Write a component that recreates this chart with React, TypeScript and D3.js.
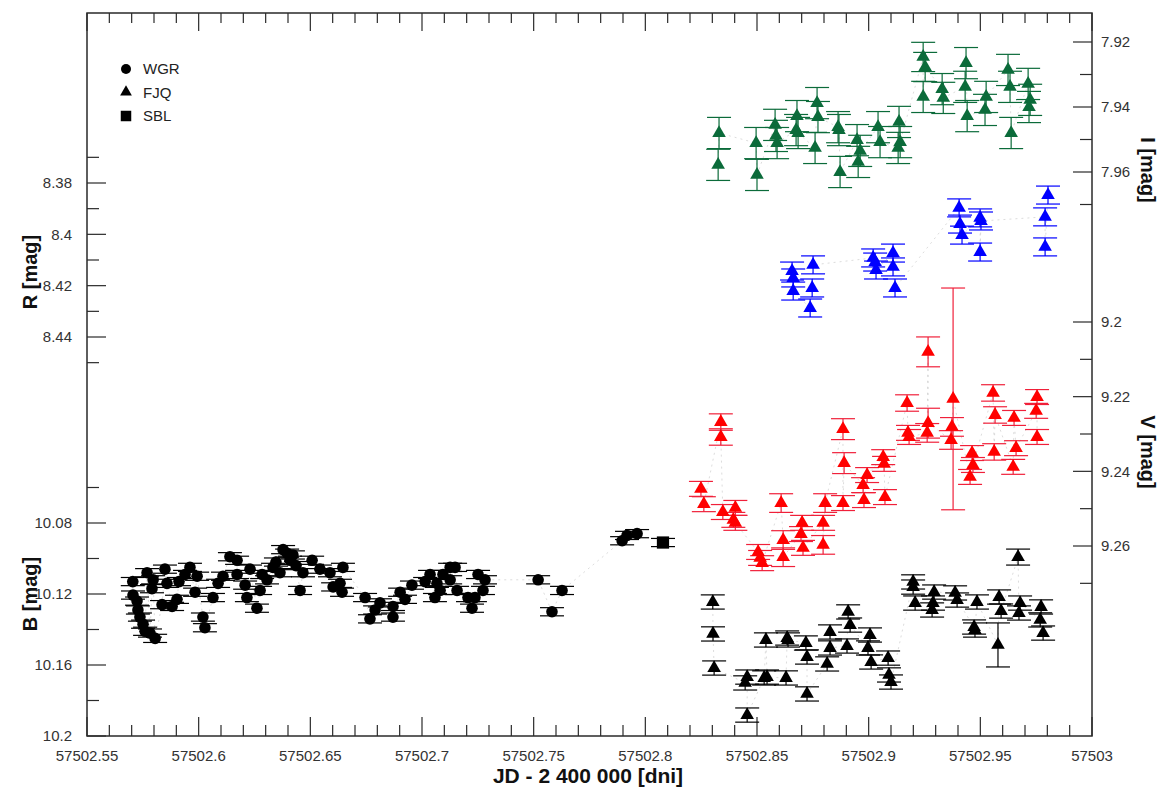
import React from 'react';
import * as d3 from 'd3';

// ---- data: [JD, mag, error] ----
const wgrB: [number, number][] = [
  [57502.5705, 10.113], [57502.5706, 10.1206], [57502.5724, 10.124], [57502.5728, 10.129],
  [57502.5737, 10.133], [57502.5751, 10.137], [57502.576, 10.141], [57502.5782, 10.142],
  [57502.5805, 10.145], [57502.5769, 10.108], [57502.5791, 10.117], [57502.5796, 10.112],
  [57502.5836, 10.126], [57502.5849, 10.106], [57502.5858, 10.114], [57502.5881, 10.127],
  [57502.5903, 10.123], [57502.5912, 10.113], [57502.5939, 10.109], [57502.5961, 10.105],
  [57502.5984, 10.119], [57502.5993, 10.11], [57502.6019, 10.133], [57502.6028, 10.139],
  [57502.6064, 10.122], [57502.6087, 10.114], [57502.6109, 10.11], [57502.614, 10.099],
  [57502.6172, 10.101], [57502.6172, 10.109], [57502.6208, 10.115], [57502.6216, 10.122],
  [57502.623, 10.106], [57502.6261, 10.128], [57502.6275, 10.118], [57502.6284, 10.109],
  [57502.6306, 10.112], [57502.6333, 10.105], [57502.6346, 10.102], [57502.6364, 10.108],
  [57502.6378, 10.095], [57502.6396, 10.097], [57502.6409, 10.101], [57502.6422, 10.098],
  [57502.6436, 10.104], [57502.6454, 10.118], [57502.6467, 10.108], [57502.6508, 10.101],
  [57502.6543, 10.106], [57502.6588, 10.108], [57502.6602, 10.116], [57502.6633, 10.114],
  [57502.6642, 10.119], [57502.6646, 10.105],
  [57502.6745, 10.122], [57502.6767, 10.134], [57502.679, 10.129], [57502.6812, 10.125],
  [57502.687, 10.127], [57502.687, 10.133], [57502.6902, 10.119], [57502.6924, 10.123],
  [57502.6955, 10.115], [57502.7014, 10.113], [57502.7036, 10.109], [57502.7058, 10.122],
  [57502.7067, 10.114], [57502.7081, 10.118], [57502.7094, 10.109], [57502.7126, 10.105],
  [57502.7126, 10.112], [57502.7148, 10.105], [57502.7157, 10.118], [57502.7206, 10.122],
  [57502.7224, 10.128], [57502.7237, 10.122], [57502.7251, 10.109], [57502.7273, 10.118],
  [57502.7282, 10.112], [57502.752, 10.112], [57502.7582, 10.13], [57502.7627, 10.118],
  [57502.7896, 10.09], [57502.7918, 10.087], [57502.7963, 10.086],
];
const wgrErr = 0.0023;

const sblB: [number, number][] = [[57502.8079, 10.091]];
const sblErr = 0.0023;

const fjqB: [number, number, number][] = [
  [57502.8302, 10.1245, 0.004], [57502.8303, 10.1425, 0.004], [57502.8308, 10.1617, 0.004],
  [57502.8447, 10.1701, 0.004], [57502.8456, 10.1668, 0.004], [57502.8456, 10.1882, 0.004],
  [57502.8532, 10.1673, 0.004], [57502.854, 10.1459, 0.004], [57502.8545, 10.1668, 0.004],
  [57502.863, 10.1673, 0.004], [57502.8635, 10.1448, 0.004], [57502.8639, 10.1459, 0.004],
  [57502.8719, 10.1476, 0.004], [57502.8724, 10.1555, 0.004], [57502.8724, 10.1763, 0.004],
  [57502.8814, 10.1594, 0.004], [57502.8827, 10.1414, 0.004], [57502.8827, 10.1504, 0.004],
  [57502.8903, 10.1493, 0.004], [57502.8908, 10.1301, 0.004], [57502.8917, 10.1375, 0.004],
  [57502.8997, 10.1504, 0.004], [57502.9006, 10.1431, 0.004], [57502.9011, 10.1583, 0.004],
  [57502.9087, 10.1561, 0.004], [57502.9091, 10.1656, 0.004], [57502.91, 10.1696, 0.004],
  [57502.9199, 10.1132, 0.004], [57502.9199, 10.1161, 0.004], [57502.9208, 10.1251, 0.004],
  [57502.9284, 10.129, 0.004], [57502.9288, 10.1251, 0.004], [57502.9293, 10.1189, 0.004],
  [57502.9387, 10.1194, 0.004], [57502.9396, 10.1234, 0.004], [57502.9472, 10.1386, 0.004],
  [57502.9476, 10.1403, 0.004], [57502.9485, 10.1245, 0.004], [57502.9579, 10.1487, 0.0124],
  [57502.9584, 10.1217, 0.004], [57502.9593, 10.1296, 0.004], [57502.9669, 10.0992, 0.0045],
  [57502.9673, 10.1307, 0.004], [57502.9678, 10.1251, 0.004], [57502.9768, 10.1346, 0.004],
  [57502.9772, 10.1273, 0.004], [57502.9781, 10.142, 0.004],
];

const fjqV: [number, number, number][] = [
  [57502.8249, 9.2447, 0.002], [57502.8262, 9.2488, 0.002], [57502.8338, 9.2268, 0.0022],
  [57502.8338, 9.2308, 0.0022], [57502.8347, 9.2509, 0.002], [57502.8394, 9.253, 0.002],
  [57502.8403, 9.2498, 0.002], [57502.8403, 9.2538, 0.002], [57502.8505, 9.2616, 0.002],
  [57502.8514, 9.2632, 0.002], [57502.8523, 9.2646, 0.002], [57502.8608, 9.2485, 0.0025],
  [57502.8617, 9.2584, 0.0025], [57502.8617, 9.263, 0.0025], [57502.8697, 9.2568, 0.002],
  [57502.8702, 9.2538, 0.002], [57502.8706, 9.2605, 0.002], [57502.8796, 9.2538, 0.002],
  [57502.8796, 9.2597, 0.0025], [57502.8805, 9.2485, 0.0025], [57502.8885, 9.2287, 0.0028],
  [57502.8885, 9.2485, 0.002], [57502.889, 9.2378, 0.0028], [57502.8975, 9.2437, 0.002],
  [57502.8979, 9.2477, 0.002], [57502.8993, 9.241, 0.002], [57502.9065, 9.2362, 0.002],
  [57502.9069, 9.238, 0.002], [57502.9073, 9.2469, 0.002], [57502.9172, 9.2217, 0.0022],
  [57502.9176, 9.2297, 0.002], [57502.9181, 9.2308, 0.002], [57502.9262, 9.2297, 0.0025],
  [57502.9266, 9.208, 0.004], [57502.9266, 9.2271, 0.004], [57502.9369, 9.2316, 0.0025],
  [57502.9373, 9.2281, 0.0025], [57502.9378, 9.2206, 0.0297], [57502.9454, 9.2415, 0.002],
  [57502.9463, 9.2351, 0.002], [57502.9467, 9.2383, 0.002], [57502.9557, 9.219, 0.0022],
  [57502.9562, 9.2348, 0.0022], [57502.9566, 9.2249, 0.0022], [57502.9647, 9.2388, 0.002],
  [57502.9651, 9.2257, 0.002], [57502.966, 9.2338, 0.002], [57502.975, 9.2238, 0.002],
  [57502.9754, 9.2201, 0.002], [57502.9754, 9.2308, 0.002],
];

const fjqR: [number, number, number][] = [
  [57502.8657, 8.4143, 0.0035], [57502.8662, 8.417, 0.0035], [57502.8662, 8.4221, 0.0035],
  [57502.8738, 8.4287, 0.0035], [57502.8747, 8.4209, 0.0035], [57502.8751, 8.4119, 0.0035],
  [57502.902, 8.4092, 0.0035], [57502.9029, 8.4108, 0.0035], [57502.9033, 8.4139, 0.0035],
  [57502.9109, 8.4073, 0.0035], [57502.9109, 8.4127, 0.0035], [57502.9118, 8.4209, 0.0035],
  [57502.9405, 8.3897, 0.0035], [57502.9409, 8.396, 0.0035], [57502.9418, 8.4003, 0.0035],
  [57502.9499, 8.3936, 0.0035], [57502.9499, 8.4069, 0.0035], [57502.9503, 8.3948, 0.0035],
  [57502.979, 8.3932, 0.0035], [57502.979, 8.4049, 0.0035], [57502.9803, 8.3847, 0.0035],
];

const fjqI: [number, number, number][] = [
  [57502.833, 7.948, 0.0048], [57502.8326, 7.9578, 0.0048], [57502.8496, 7.9511, 0.0048],
  [57502.85, 7.9609, 0.0048], [57502.8581, 7.9455, 0.0048], [57502.8585, 7.9489, 0.0048],
  [57502.859, 7.9511, 0.0048], [57502.8679, 7.9428, 0.0048], [57502.8675, 7.9471, 0.0048],
  [57502.8684, 7.948, 0.0048], [57502.8769, 7.9388, 0.0048], [57502.8773, 7.9431, 0.0048],
  [57502.876, 7.9526, 0.0048], [57502.8863, 7.9462, 0.0048], [57502.8867, 7.9471, 0.0048],
  [57502.8872, 7.96, 0.0048], [57502.8948, 7.9502, 0.0048], [57502.8962, 7.9535, 0.0048],
  [57502.8953, 7.9569, 0.0048], [57502.9042, 7.9462, 0.0048], [57502.9051, 7.9508, 0.0048],
  [57502.9136, 7.9446, 0.0048], [57502.9141, 7.9508, 0.0048], [57502.9132, 7.9526, 0.0048],
  [57502.9244, 7.9246, 0.0045], [57502.9253, 7.9277, 0.0045], [57502.9244, 7.9369, 0.0048],
  [57502.9329, 7.9345, 0.0048], [57502.9334, 7.9372, 0.0048], [57502.9436, 7.9265, 0.0048],
  [57502.9432, 7.9338, 0.0048], [57502.9441, 7.9428, 0.0048], [57502.9526, 7.9369, 0.0048],
  [57502.9521, 7.9409, 0.0048], [57502.9624, 7.9286, 0.0048], [57502.9633, 7.9338, 0.0048],
  [57502.9638, 7.948, 0.0048], [57502.9714, 7.9329, 0.0048], [57502.9723, 7.9378, 0.0048],
  [57502.9718, 7.94, 0.0048],
];

// ---- axes ----
const xTicks = [57502.55, 57502.6, 57502.65, 57502.7, 57502.75, 57502.8, 57502.85, 57502.9, 57502.95, 57503];
const xTickLabels = ['57502.55', '57502.6', '57502.65', '57502.7', '57502.75', '57502.8', '57502.85', '57502.9', '57502.95', '57503'];
const rTicks = [8.38, 8.4, 8.42, 8.44];
const rTickLabels = ['8.38', '8.4', '8.42', '8.44'];
const rMinor = [8.37, 8.39, 8.41, 8.43, 8.45];
const bTicks = [10.08, 10.12, 10.16, 10.2];
const bTickLabels = ['10.08', '10.12', '10.16', '10.2'];
const bMinor = [10.06, 10.1, 10.14, 10.18];
const iTicks = [7.92, 7.94, 7.96];
const iTickLabels = ['7.92', '7.94', '7.96'];
const iMinor = [7.93, 7.95, 7.97];
const vTicks = [9.2, 9.22, 9.24, 9.26];
const vTickLabels = ['9.2', '9.22', '9.24', '9.26'];
const vMinor = [9.21, 9.23, 9.25, 9.27];

const legendNames = ['WGR', 'FJQ', 'SBL'];

const FONT = "'Liberation Sans', Arial, sans-serif";
const AX = '#2a2a2a';

const L = 87, R = 1092, T = 13, B = 736;
const x = d3.scaleLinear().domain([57502.55, 57503]).range([L, R]);
const yB = d3.scaleLinear().domain([10.08, 10.2]).range([523, 736]);
const yR = d3.scaleLinear().domain([8.38, 8.44]).range([183, 337]);
const yI = d3.scaleLinear().domain([7.92, 7.96]).range([42, 172]);
const yV = d3.scaleLinear().domain([9.2, 9.26]).range([322, 546]);

const tri = d3.symbol(d3.symbolTriangle, 80)() as string;
const sq = d3.symbol(d3.symbolSquare, 150)() as string;

type Pt = [number, number, number];

function Series({ pts, y, color, marker, barColor }: { pts: Pt[]; y: d3.ScaleLinear<number, number>; color: string; marker: 'c' | 't' | 's'; barColor?: string }) {
  const sorted = [...pts].sort((a, b) => a[0] - b[0]);
  const line = d3.line<Pt>().x((d) => x(d[0])).y((d) => y(d[1]));
  return (
    <g>
      <path d={line(sorted) || ''} fill="none" stroke="#aaa" strokeWidth={0.7} strokeDasharray="2,4" opacity={0.6} />
      {pts.map((d, i) => {
        const cx = x(d[0]);
        const y0 = y(d[1] - d[2]);
        const y1 = y(d[1] + d[2]);
        return (
          <g key={'e' + i} stroke={barColor || color} strokeWidth={1.2}>
            <line x1={cx} x2={cx} y1={y0} y2={y1} />
            <line x1={cx - 12} x2={cx + 12} y1={y0} y2={y0} />
            <line x1={cx - 12} x2={cx + 12} y1={y1} y2={y1} />
          </g>
        );
      })}
      {pts.map((d, i) => {
        const cx = x(d[0]);
        const cy = y(d[1]);
        if (marker === 'c') return <circle key={'m' + i} cx={cx} cy={cy} r={5.8} fill={color} />;
        return <path key={'m' + i} d={marker === 't' ? tri : sq} transform={`translate(${cx},${cy})`} fill={color} />;
      })}
    </g>
  );
}

function LeftTicks({ major, labels, minor, y }: { major: number[]; labels: string[]; minor: number[]; y: d3.ScaleLinear<number, number> }) {
  return (
    <g>
      {major.map((v, i) => (
        <g key={'M' + i}>
          <line x1={L} x2={L + 19} y1={y(v)} y2={y(v)} stroke={AX} strokeWidth={1.2} />
          <text x={72} y={y(v)} dy="0.35em" textAnchor="end" fontSize={15} fill="#333" fontFamily={FONT}>{labels[i]}</text>
        </g>
      ))}
      {minor.map((v, i) => (
        <line key={'m' + i} x1={L} x2={L + 12} y1={y(v)} y2={y(v)} stroke={AX} strokeWidth={1.2} />
      ))}
    </g>
  );
}

function RightTicks({ major, labels, minor, y }: { major: number[]; labels: string[]; minor: number[]; y: d3.ScaleLinear<number, number> }) {
  return (
    <g>
      {major.map((v, i) => (
        <g key={'M' + i}>
          <line x1={R} x2={R - 19} y1={y(v)} y2={y(v)} stroke={AX} strokeWidth={1.2} />
          <text x={1101} y={y(v)} dy="0.35em" textAnchor="start" fontSize={15} fill="#333" fontFamily={FONT}>{labels[i]}</text>
        </g>
      ))}
      {minor.map((v, i) => (
        <line key={'m' + i} x1={R} x2={R - 12} y1={y(v)} y2={y(v)} stroke={AX} strokeWidth={1.2} />
      ))}
    </g>
  );
}

export default function App() {
  const xMinor = d3.range(0, 46).map((i) => 57502.55 + i * 0.01).filter((_, i) => i % 5 !== 0);
  const wgr: Pt[] = wgrB.map((d) => [d[0], d[1], wgrErr]);
  const sbl: Pt[] = sblB.map((d) => [d[0], d[1], sblErr]);

  return (
    <div style={{ position: 'absolute', left: 0, top: 0 }}>
      <svg width={1163} height={791} style={{ display: 'block', background: '#fff' }}>
        {/* x ticks, bottom and top */}
        {xTicks.map((v, i) => (
          <g key={'xt' + i}>
            <line x1={x(v)} x2={x(v)} y1={B} y2={B - 19} stroke={AX} strokeWidth={1.2} />
            <line x1={x(v)} x2={x(v)} y1={T} y2={T + 18} stroke={AX} strokeWidth={1.2} />
            <text x={x(v)} y={761} textAnchor="middle" fontSize={15} fill="#333" fontFamily={FONT}>{xTickLabels[i]}</text>
          </g>
        ))}
        {xMinor.map((v, i) => (
          <g key={'xm' + i}>
            <line x1={x(v)} x2={x(v)} y1={B} y2={B - 11} stroke={AX} strokeWidth={1.2} />
            <line x1={x(v)} x2={x(v)} y1={T} y2={T + 10} stroke={AX} strokeWidth={1.2} />
          </g>
        ))}

        <LeftTicks major={rTicks} labels={rTickLabels} minor={rMinor} y={yR} />
        <LeftTicks major={bTicks} labels={bTickLabels} minor={bMinor} y={yB} />
        <RightTicks major={iTicks} labels={iTickLabels} minor={iMinor} y={yI} />
        <RightTicks major={vTicks} labels={vTickLabels} minor={vMinor} y={yV} />

        <rect x={L} y={T} width={R - L} height={B - T} fill="none" stroke={AX} strokeWidth={1.5} />

        {/* data */}
        <Series pts={fjqI} y={yI} color="#0b6b3a" marker="t" />
        <Series pts={fjqR} y={yR} color="#0000ff" marker="t" />
        <Series pts={fjqV} y={yV} color="#ff0000" barColor="#f0203a" marker="t" />
        <Series pts={wgr} y={yB} color="#000" marker="c" />
        <Series pts={sbl} y={yB} color="#000" marker="s" />
        <Series pts={fjqB} y={yB} color="#000" marker="t" />

        {/* legend */}
        <g fontFamily={FONT} fontSize={15} fill="#222">
          <circle cx={126} cy={69} r={5} fill="#000" />
          <path d={d3.symbol(d3.symbolTriangle, 60)() as string} transform="translate(126,92)" fill="#000" />
          <path d={d3.symbol(d3.symbolSquare, 110)() as string} transform="translate(126,116)" fill="#000" />
          {legendNames.map((n, i) => (
            <text key={n} x={143} y={69 + i * 23.5} dy="0.35em">{n}</text>
          ))}
        </g>

        {/* axis titles */}
        <g fontFamily={FONT} fontWeight="bold" fontSize={20} fill="#111" textAnchor="middle">
          <text transform="translate(37,272) rotate(-90)">R [mag]</text>
          <text transform="translate(37,594) rotate(-90)">B [mag]</text>
          <text transform="translate(1141,170) rotate(90)">I [mag]</text>
          <text transform="translate(1141,452) rotate(90)">V [mag]</text>
          <text x={588} y={783} fontSize={21}>JD - 2 400 000 [dni]</text>
        </g>
      </svg>
    </div>
  );
}
